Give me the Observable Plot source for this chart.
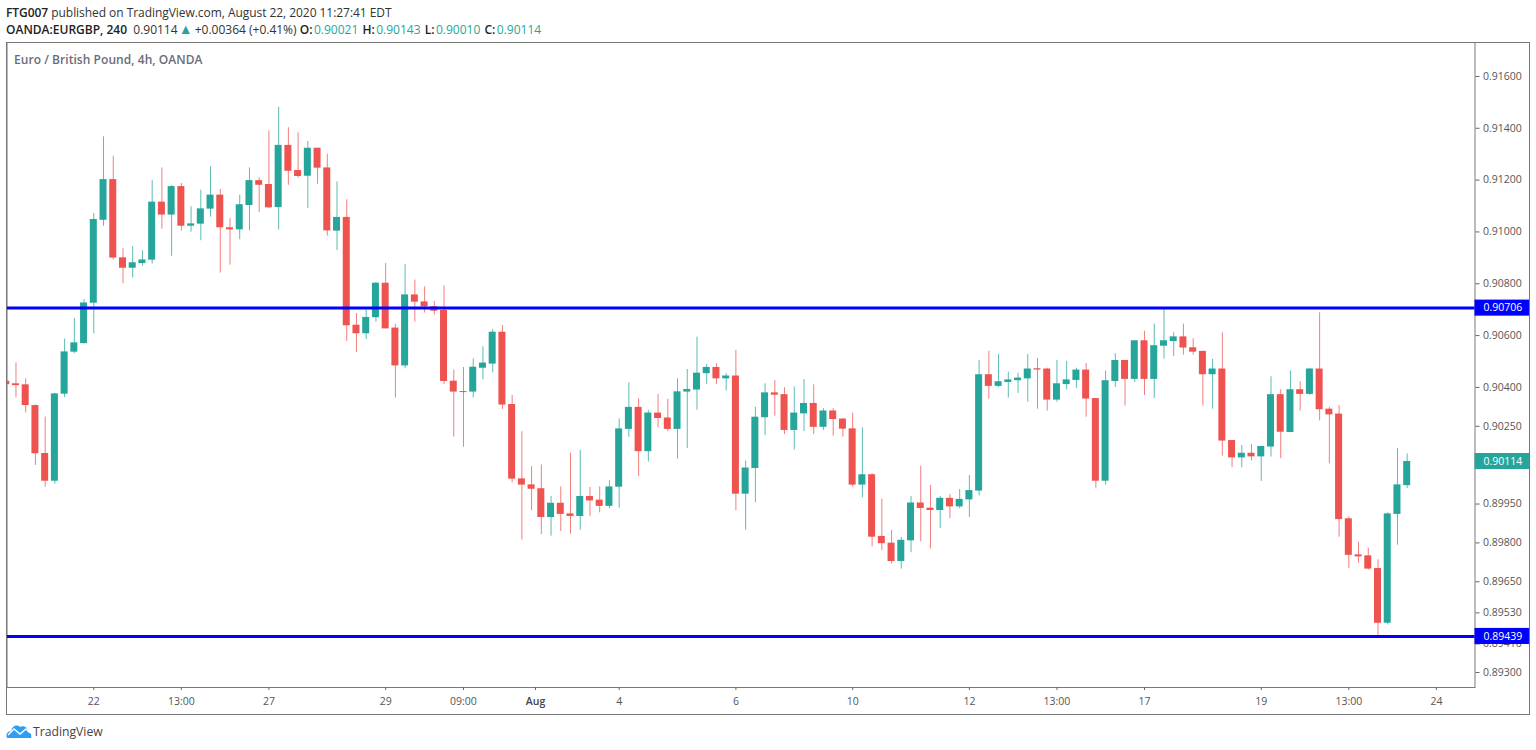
<!DOCTYPE html>
<html>
<head>
<meta charset="utf-8">
<script src="https://cdn.jsdelivr.net/npm/d3@7"></script>
<script src="https://cdn.jsdelivr.net/npm/@observablehq/plot@0.6"></script>
<style>
html,body{margin:0;padding:0;background:#fff;width:1536px;height:750px;overflow:hidden;font-family:"Open Sans",sans-serif}
#head{height:42px;position:relative;font-size:12px;color:#333}
#head div{position:absolute;left:6px;white-space:nowrap}
#l1{top:4px;letter-spacing:-0.05px}#l2{top:21px}
#head b{color:#222;font-weight:600}
#head i{font-style:normal;color:#26a69a;margin:0 1px 0 1.5px}
#head i.up{font-size:14px;line-height:12px;margin:0 -1px 0 -2px}
#chart{position:relative;height:672px}
#chart svg{display:block}
#border{position:absolute;left:6px;top:0;width:1522px;height:671px;border:1px solid #787878;pointer-events:none}
#title{position:absolute;left:14px;top:9px;font-size:12px;font-weight:600;color:#6a6d78;letter-spacing:0.05px}
#foot{position:absolute;left:6px;top:723px;display:flex;align-items:center;font-size:12.2px;color:#444}
#foot svg{margin-right:1px}
</style>
</head>
<body>
<div id="head">
<div id="l1"><b>FTG007</b> published on TradingView.com, August 22, 2020 11:27:41 EDT</div>
<div id="l2"><b>OANDA:EURGBP, 240</b>&nbsp; 0.90114 <i class="up">▲</i> +0.00364 (+0.41%) <b>O:</b><i>0.90021</i> <b>H:</b><i>0.90143</i> <b>L:</b><i>0.90010</i> <b>C:</b><i>0.90114</i></div>
</div>
<div id="chart"><div id="border"></div><div id="title">Euro / British Pound, 4h, OANDA</div></div>
<div id="foot"><svg width="26" height="15" viewBox="0 0 26 15"><path d="M1 14 C-1 9 3 7 5 7 C6 2 11 0 14 3 C17 1 22 3 22 8 C25 8 26 12 25 14 Z" fill="#2e9ef4"/><path d="M2 11 L8 5 L14 10 L20 5 L24 9" fill="none" stroke="#fff" stroke-width="1.4"/></svg>TradingView</div>
<script>
const open = [.90424,.90414,.90410,.90330,.90145,.90038,.90374,.90536,.90569,.90725,.91045,.91202,.90900,.90860,.90878,.90891,.91115,.91065,.91175,.91022,.91030,.91088,.91142,.91016,.91008,.91102,.91198,.91183,.91094,.91334,.91237,.91215,.91323,.91247,.91003,.91056,.90640,.90607,.90669,.90802,.90629,.90483,.90757,.90730,.90711,.90697,.90424,.90384,.90382,.90474,.90490,.90613,.90334,.90047,.90024,.90009,.89898,.89953,.89912,.89902,.89979,.89965,.89941,.90015,.90238,.90323,.90152,.90301,.90282,.90238,.90382,.90390,.90453,.90477,.90433,.90444,.89988,.90087,.90283,.90379,.90372,.90234,.90298,.90338,.90246,.90309,.90278,.90240,.90023,.90063,.89825,.89799,.89728,.89808,.89954,.89934,.89925,.89972,.89939,.89966,.90000,.90449,.90404,.90419,.90426,.90433,.90472,.90471,.90351,.90411,.90427,.90467,.90357,.90038,.90423,.90504,.90431,.90580,.90431,.90559,.90577,.90595,.90553,.90539,.90449,.90471,.90195,.90128,.90146,.90132,.90170,.90372,.90226,.90391,.90373,.90471,.90316,.90297,.89893,.89754,.89750,.89701,.89490,.89910,.90021];
const high = [.90424,.90495,.90433,.90332,.90286,.90377,.90587,.90666,.90739,.91071,.91367,.91292,.90935,.90943,.90927,.91198,.91247,.91179,.91187,.91097,.91161,.91251,.91164,.91051,.91142,.91247,.91209,.91390,.91481,.91402,.91382,.91349,.91323,.91300,.91193,.91124,.90685,.90697,.90806,.90878,.90644,.90874,.90814,.90788,.90732,.90792,.90467,.90477,.90510,.90557,.90624,.90639,.90369,.90229,.90094,.90101,.89979,.90016,.90146,.90158,.90014,.90016,.90040,.90279,.90418,.90356,.90312,.90373,.90354,.90433,.90469,.90594,.90489,.90491,.90453,.90543,.90116,.90323,.90414,.90426,.90399,.90402,.90430,.90410,.90318,.90318,.90279,.90301,.90244,.90067,.89969,.89848,.89821,.89979,.90096,.90022,.89979,.89987,.90006,.90060,.90504,.90539,.90527,.90459,.90455,.90527,.90512,.90474,.90504,.90500,.90474,.90492,.90357,.90463,.90530,.90504,.90580,.90617,.90644,.90707,.90611,.90644,.90588,.90540,.90508,.90611,.90195,.90176,.90180,.90172,.90441,.90391,.90463,.90422,.90474,.90688,.90323,.90330,.89901,.89803,.89780,.89735,.89916,.90164,.90143];
const low = [.90411,.90360,.90302,.90099,.90015,.90027,.90360,.90530,.90568,.90607,.91022,.90891,.90800,.90822,.90868,.90876,.91011,.90906,.91003,.90999,.90966,.91057,.90841,.90872,.90970,.91004,.91075,.91090,.91007,.91180,.91207,.91090,.91184,.90984,.90928,.90577,.90535,.90585,.90652,.90626,.90359,.90472,.90652,.90687,.90679,.90411,.90208,.90169,.90359,.90429,.90456,.90315,.90031,.89811,.89924,.89832,.89826,.89844,.89834,.89849,.89901,.89916,.89932,.89934,.90207,.90056,.90112,.90244,.90230,.90123,.90164,.90312,.90411,.90411,.90386,.89924,.89849,.89955,.90215,.90289,.90218,.90158,.90230,.90218,.90234,.90212,.90208,.90015,.89974,.89785,.89770,.89718,.89699,.89762,.89804,.89777,.89856,.89894,.89932,.89898,.89981,.90354,.90399,.90359,.90377,.90343,.90316,.90309,.90343,.90390,.90396,.90285,.90011,.90023,.90400,.90328,.90419,.90369,.90357,.90509,.90519,.90525,.90525,.90328,.90316,.90135,.90090,.90090,.90116,.90037,.90131,.90125,.90226,.90309,.90369,.90271,.90105,.89822,.89701,.89721,.89695,.89443,.89483,.89791,.90010];
const close = [.90411,.90407,.90330,.90144,.90038,.90375,.90537,.90572,.90726,.91048,.91202,.90899,.90860,.90881,.90892,.91115,.91065,.91175,.91022,.91031,.91089,.91142,.91016,.91008,.91105,.91198,.91180,.91093,.91334,.91234,.91214,.91323,.91246,.91004,.91056,.90638,.90607,.90670,.90802,.90626,.90483,.90757,.90729,.90711,.90694,.90423,.90382,.90380,.90478,.90494,.90613,.90332,.90046,.90023,.90007,.89898,.89953,.89910,.89902,.89979,.89962,.89941,.90016,.90240,.90323,.90152,.90301,.90280,.90238,.90383,.90392,.90455,.90477,.90433,.90444,.89988,.90089,.90285,.90379,.90370,.90234,.90301,.90338,.90246,.90309,.90276,.90239,.90023,.90063,.89822,.89797,.89728,.89810,.89954,.89933,.89925,.89972,.89939,.89968,.90002,.90449,.90404,.90422,.90429,.90436,.90471,.90467,.90351,.90414,.90429,.90467,.90355,.90038,.90426,.90504,.90431,.90580,.90431,.90561,.90580,.90595,.90552,.90536,.90449,.90471,.90193,.90128,.90146,.90132,.90172,.90372,.90227,.90391,.90373,.90471,.90314,.90294,.89890,.89752,.89746,.89699,.89490,.89912,.90024,.90114];

const yTicks = [.916,.914,.912,.91,.908,.906,.904,.9025,.8995,.898,.8965,.8953,.8941,.893];
const xTickIndex = [9,18,27,39,47,63,75,87,99,108,117,129,138,147];
const xTickLabels = ["22","13:00","27","29","09:00","4","6","10","12","13:00","17","19","13:00","24"];
const monthTickIndex = [54.4];
const monthTickLabels = ["Aug"];
const levels = [.90706,.89439];
const tagValues = [.90706,.90114,.89439];
const tagColors = ["#0000ff","#26a69a","#0000ff"];

const candles = open.map((o,i)=>({i,o,h:high[i],l:low[i],c:close[i],col:close[i]>=o?"#26a69a":"#ef5350"}));
const tags = tagValues.map((v,k)=>({v,col:tagColors[k]}));
const fmt = d3.format(".5f");
const halfBody = 0.36, tagLeft = 150.97, tagRight = 156.57, tagHalf = 0.00031, tagTextX = 151.84;

const tickLabel = (ids,labels)=>d=>labels[ids.indexOf(d)];

const chart = Plot.plot({
  width:1536,height:672,
  marginTop:0,marginBottom:27,marginLeft:6.5,marginRight:61.5,
  x:{type:"linear",domain:[0.078,150.97]},
  y:{type:"linear",domain:[0.89242,0.91731]},
  style:{background:"#fff",fontFamily:"'Open Sans',sans-serif",fontSize:"10.5px",color:"#555"},
  marks:[
    Plot.frame({stroke:"#787878"}),
    Plot.axisY({anchor:"right",ticks:yTicks,tickFormat:fmt,tickSize:4,tickPadding:4,label:null,stroke:"#666",fill:"#555",fontSize:10.5}),
    Plot.axisX({anchor:"bottom",ticks:xTickIndex,tickFormat:tickLabel(xTickIndex,xTickLabels),tickSize:3,tickPadding:7,label:null,stroke:"#666",fill:"#555",fontSize:10.5}),
    Plot.axisX({anchor:"bottom",ticks:monthTickIndex,tickFormat:tickLabel(monthTickIndex,monthTickLabels),tickSize:3,tickPadding:7,label:null,stroke:"#666",fill:"#444",fontSize:10.5,fontWeight:600}),
    Plot.ruleX(candles,{x:"i",y1:"l",y2:"h",stroke:"col",strokeWidth:1,strokeOpacity:0.75,clip:true}),
    Plot.rect(candles,{x1:d=>d.i-halfBody,x2:d=>d.i+halfBody,y1:"o",y2:"c",fill:"col",clip:true}),
    Plot.ruleY(levels,{stroke:"#0000ff",strokeWidth:3}),
    Plot.rect(tags,{x1:()=>tagLeft,x2:()=>tagRight,y1:d=>d.v-tagHalf,y2:d=>d.v+tagHalf,fill:"col"}),
    Plot.text(tags,{x:()=>tagTextX,y:"v",text:d=>fmt(d.v),fill:"#fff",textAnchor:"start",fontSize:10.5})
  ]
});
document.getElementById("chart").prepend(chart);
</script>
</body>
</html>
